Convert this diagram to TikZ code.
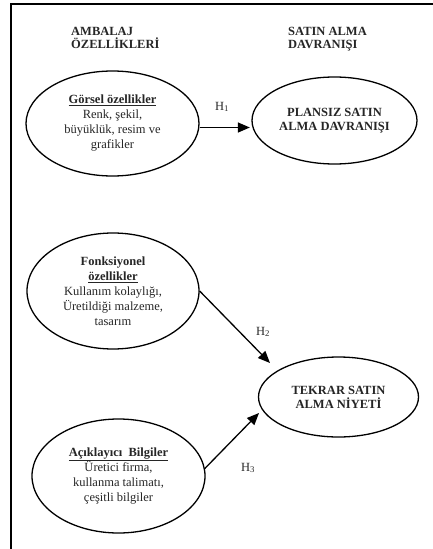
\documentclass[tikz,border=0pt]{standalone}
\usepackage{fontspec}
\setmainfont{Liberation Serif}
\usetikzlibrary{shapes.geometric,arrows.meta,calc}
\begin{document}
\begin{tikzpicture}[x=1pt,y=-1pt,
  oval/.style={draw=black,line width=1.3pt,ellipse,inner sep=0pt,align=center,text=black!85,font=\fontsize{12.5}{15}\selectfont},
  capoval/.style={oval,font=\bfseries\fontsize{12.5}{14}\selectfont},
  head/.style={anchor=north west,align=left,inner sep=0pt,font=\bfseries\fontsize{12.5}{12.5}\selectfont,text=black!85},
  arr/.style={line width=1.3pt,-{Triangle[length=12pt,width=10pt]}},
  hlab/.style={inner sep=0pt,font=\fontsize{12.5}{15}\selectfont,text=black!85}]
\useasboundingbox (0,0) rectangle (433,549);
\draw[line width=1.8pt] (433,4) -- (11,4) -- (11,549);

\node[head] (hA) at (71,27.25) {AMBALAJ\\ÖZELLİKLERİ};
\node[head] (hS) at (288,27.25) {SATIN ALMA\\DAVRANIŞI};

\node[oval,minimum width=173pt,minimum height=105pt] (e1) at (112.5,123.5)
  {\textbf{\underline{Görsel özellikler}}\\Renk, şekil,\\büyüklük, resim ve\\grafikler};
\node[capoval,minimum width=165pt,minimum height=87pt] (e2) at (334.5,120.5)
  {PLANSIZ SATIN\\ALMA DAVRANIŞI};
\node[oval,minimum width=172pt,minimum height=116pt] (e3) at (113,291)
  {\textbf{Fonksiyonel}\\\textbf{\underline{özellikler}}\\Kullanım kolaylığı,\\Üretildiği malzeme,\\tasarım};
\node[capoval,minimum width=160pt,minimum height=80pt] (e4) at (338.5,397)
  {TEKRAR SATIN\\ALMA NİYETİ};
\node[oval,minimum width=173pt,minimum height=114pt] (e5) at (118.5,476)
  {\textbf{\underline{Açıklayıcı~~Bilgiler}}\\Üretici firma,\\kullanma talimatı,\\çeşitli bilgiler};

\coordinate (t2) at (270,363);
\coordinate (t3) at (259,413);

\draw[arr,shorten >=1.5pt] ([yshift=-4pt]e1.east) -- ([yshift=-7pt]e2.west);
\draw[arr] (e3.east) -- (t2);
\draw[arr] (e5.5) -- (t3);

\node[hlab] (h1) at (222,107) {H\textsubscript{1}};
\node[hlab] (h2) at (263,332) {H\textsubscript{2}};
\node[hlab] (h3) at (248,468) {H\textsubscript{3}};
\end{tikzpicture}
\end{document}
